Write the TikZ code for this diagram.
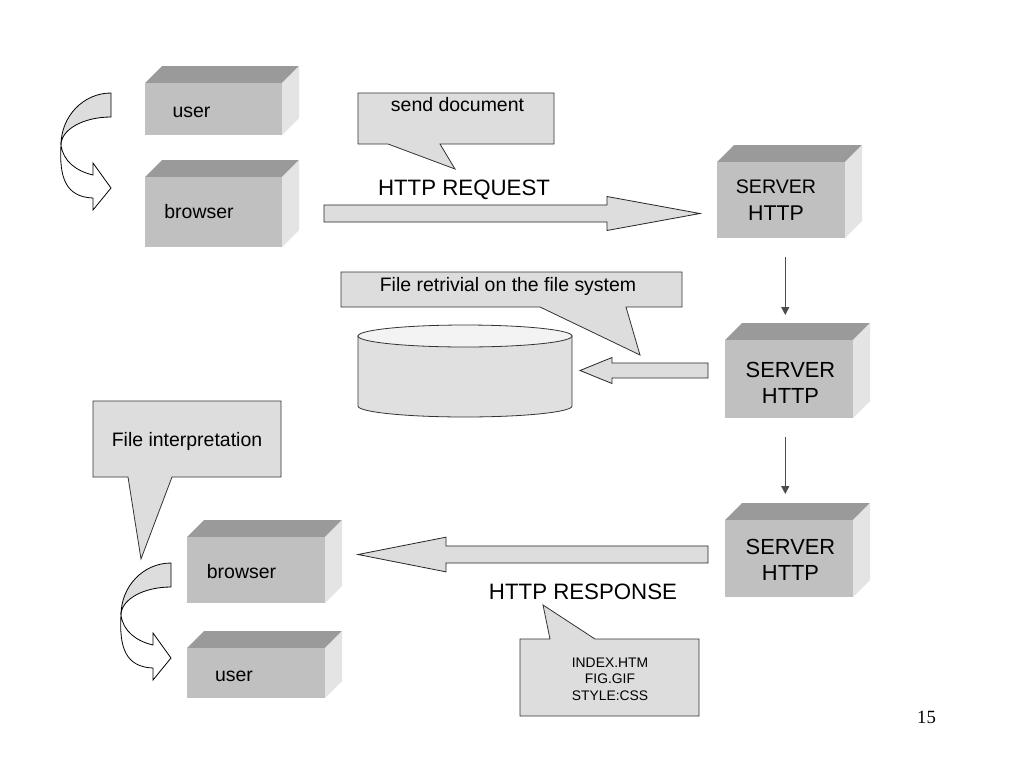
\documentclass[tikz,border=0pt]{standalone}
\usepackage{fontspec}
\setmainfont{Liberation Sans}
\newfontfamily\pagefont{Liberation Serif}
\usetikzlibrary{calc}
\usetikzlibrary{arrows.meta}
\definecolor{cubefront}{HTML}{C0C0C0}
\definecolor{cubetop}{HTML}{9A9A9A}
\definecolor{cubeside}{HTML}{E4E4E4}
\definecolor{bubblegray}{HTML}{DDDDDD}
\definecolor{diskgray}{HTML}{E0E0E0}
\tikzset{
  cubeface/.style={
    rectangle,
    fill=cubefront,
    inner sep=0,
    anchor=north west,
  },
  txt/.style={
    inner sep=0,
    font=\fontsize{14.6}{17.5}\selectfont,
  },
  bigtxt/.style={
    inner sep=0,
    font=\fontsize{16.7}{20}\selectfont,
  },
  srvtxt/.style={
    inner sep=0,
    align=center,
    font=\fontsize{16.4}{19.5}\selectfont,
  },
  smalltxt/.style={
    inner sep=0,
    align=center,
    font=\fontsize{10.4}{12.4}\selectfont,
  },
  talk/.style={
    draw=black!80,
    fill=bubblegray,
    line width=0.6pt,
  },
  disk/.style={
    draw=black!80,
    fill=diskgray,
    line width=0.6pt,
  },
  turnback/.style={
    draw=black,
    fill=bubblegray,
    line width=0.6pt,
  },
  turnfront/.style={
    draw=black,
    fill=white,
    line width=0.6pt,
  },
  link/.style={
    -{Triangle[width=6pt,length=6pt]},
    draw=black!70,
    line width=0.9pt,
  },
  fatarrow/.style n args={3}{% shaft half width, head half width, head length
    draw=black!85,
    fill=bubblegray,
    line width=0.6pt,
    to path={
      let \p1=($(\tikztotarget)!#3!(\tikztostart)$) in
      ($(\tikztostart)!#1!90:(\tikztotarget)$)
      -- ($(\p1)!#1!90:(\tikztotarget)$)
      -- ($(\p1)!#2!90:(\tikztotarget)$)
      -- (\tikztotarget)
      -- ($(\p1)!#2!-90:(\tikztotarget)$)
      -- ($(\p1)!#1!-90:(\tikztotarget)$)
      -- ($(\tikztostart)!#1!-90:(\tikztotarget)$)
      -- cycle
    }
  }
}
\newcommand{\solidbox}[5]{% name, x, y, width, height of the front face
  \fill[cubetop] (#2,#3) -- ++(17,-17) -- ++(#4,0) -- ++(-17,17) -- cycle; % top
  \fill[cubeside] (#2+#4,#3) -- ++(17,-17) -- ++(0,#5) -- ++(-17,17) -- cycle; % side
  \node[cubeface,minimum width=#4*0.75pt,minimum height=#5*0.75pt] (#1) at (#2,#3) {};
}
\newcommand{\turnarrow}[2]{% tail top corner at (#1,#2)
  \begin{scope}[shift={(#1,#2)}]
    \draw[turnback] (0,0) .. controls (-27.6,0) and (-50,23.3) .. (-50,52)
      .. controls (-50,36.5) and (-27.6,24) .. (0,24) -- cycle; % back
    \draw[turnfront] (-50,52) .. controls (-52,85) and (-45,104) .. (-18,105)
      -- (-18,117) -- (0,95) -- (-18,70) -- (-18,82)
      .. controls (-35,78) and (-48,68) .. (-50,52) -- cycle; % front
  \end{scope}
}

\begin{document}
\begin{tikzpicture}[x=0.75pt,y=-0.75pt]
  \fill[white] (0,0) rectangle (1024,768);
  \useasboundingbox (0,0) rectangle (1024,768);

  % client side, top
  \solidbox{user1}{145}{83}{137}{52}
  \solidbox{browser1}{145}{177}{137}{70}
  \node[txt] (user1-t) at (191.5,112) {user};
  \node[txt] (browser1-t) at (199,211.5) {browser};
  \turnarrow{111}{93}

  % servers
  \solidbox{srv1}{717}{162}{128}{76}
  \solidbox{srv2}{725}{340}{128}{78}
  \solidbox{srv3}{725}{520}{128}{77}
  \node[srvtxt,font=\fontsize{16}{20}\selectfont] (srv1-t) at (776,200)
    {{\fontsize{14.7}{20}\selectfont SERVER}\\HTTP};
  \node[srvtxt] (srv2-t) at (790.5,383) {SERVER\\HTTP};
  \node[srvtxt] (srv3-t) at (790.5,560) {SERVER\\HTTP};
  \draw[link] ($(srv1.south)+(4,18)$) -- ($(srv2.north)+(-4,-25)$);
  \draw[link] ($(srv2.south)+(-4,18)$) -- ($(srv3.north)+(-4,-26)$);

  % request
  \coordinate (req-from) at (324,213.5);
  \coordinate (req-to) at (700,213.5);
  \draw[fatarrow={6.4pt}{12.75pt}{69.75pt}] (req-from) to (req-to);
  \node[bigtxt] (req-t) at (464,190) {HTTP REQUEST};
  \draw[talk] (358,93) -- (554,93) -- (554,144) -- (440,144) -- (455,169)
    -- (388,144) -- (358,144) -- cycle;
  \node[txt] (send-t) at (457.5,104.5) {send document};

  % file system
  \draw[disk] (358,336) -- (358,406)
    -- plot[domain=180:0,samples=40] ({465+107*cos(\x)},{406+11*sin(\x)})
    -- (572,336) -- cycle;
  \draw[disk,fill=white!60!diskgray] plot[domain=0:360,samples=72]
    ({465+107*cos(\x)},{336+11*sin(\x)}) -- cycle;
  \coordinate (get-from) at (708,370.5);
  \coordinate (get-to) at (580,370.5);
  \draw[fatarrow={5.6pt}{9.75pt}{24pt}] (get-from) to (get-to);
  \draw[talk] (341,272) -- (682,272) -- (682,307) -- (626,307) -- (640,355)
    -- (540,307) -- (341,307) -- cycle;
  \node[txt] (fs-t) at (508,286) {File retrivial on the file system};

  % response
  \coordinate (resp-from) at (708,554.5);
  \coordinate (resp-to) at (358,554.5);
  \draw[fatarrow={6.4pt}{13pt}{66pt}] (resp-from) to (resp-to);
  \node[bigtxt] (resp-t) at (583,591.5) {HTTP RESPONSE};
  \draw[talk] (520,639) -- (550,639) -- (543,605) -- (595,639) -- (699,639)
    -- (699,716) -- (520,716) -- cycle;
  \node[smalltxt] (files-t) at (610,679) {INDEX.HTM\\FIG.GIF\\STYLE:CSS};

  % client side, bottom
  \draw[talk] (93,401) -- (281,401) -- (281,477) -- (172,477) -- (141,559)
    -- (128,477) -- (93,477) -- cycle;
  \node[txt] (interp-t) at (187,441) {File interpretation};
  \solidbox{browser2}{187}{537}{138}{66}
  \solidbox{user2}{187}{648}{138}{50}
  \node[txt] (browser2-t) at (241.5,571.5) {browser};
  \node[txt] (user2-t) at (234,676) {user};
  \turnarrow{171}{563}

  \node[inner sep=0,font=\pagefont\fontsize{14}{16}\selectfont] (page) at (926.5,717) {15};
\end{tikzpicture}
\end{document}
